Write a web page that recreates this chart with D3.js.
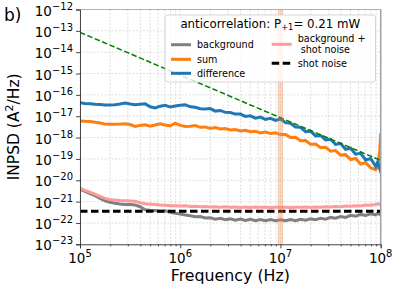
<!DOCTYPE html>
<html>
<head>
<style>
  body { margin: 0; background: #fff; }
  text { font-family: "DejaVu Sans", sans-serif; fill: #000; }
</style>
</head>
<body>
<div id="chart"></div>
<script src="https://d3js.org/d3.v7.min.js"></script>
<script>

// log10 of frequency (Hz) where the traces were read
var logFreq = [5.00,5.05,5.10,5.15,5.20,5.25,5.30,5.35,5.40,5.45,
               5.50,5.55,5.60,5.65,5.70,5.75,5.80,5.85,5.90,5.95,
               6.00,6.05,6.10,6.15,6.20,6.25,6.30,6.35,6.40,6.45,
               6.50,6.55,6.60,6.65,6.70,6.75,6.80,6.85,6.90,6.95,
               7.00,7.05,7.10,7.15,7.20,7.25,7.30,7.35,7.40,7.45,
               7.50,7.55,7.60,7.65,7.70,7.75,7.80,7.85,7.90,7.95,
               7.97,7.99,8.00];

// log10 of INPSD (A^2/Hz)
var background = [-20.42,-20.52,-20.62,-20.72,-20.85,-20.96,-21.03,-21.08,-21.11,-21.13,
                  -21.14,-21.16,-21.24,-21.38,-21.41,-21.42,-21.45,-21.43,-21.50,-21.55,
                  -21.58,-21.63,-21.66,-21.71,-21.70,-21.77,-21.76,-21.82,-21.78,-21.85,
                  -21.81,-21.87,-21.82,-21.88,-21.83,-21.89,-21.84,-21.90,-21.84,-21.89,
                  -21.85,-21.90,-21.84,-21.89,-21.83,-21.87,-21.81,-21.85,-21.78,-21.82,
                  -21.74,-21.78,-21.70,-21.74,-21.64,-21.68,-21.60,-21.65,-21.57,-21.62,
                  -21.54,-21.60,-21.55];

var sum = [-17.22,-17.24,-17.25,-17.28,-17.32,-17.37,-17.38,-17.38,-17.37,-17.35,
           -17.39,-17.48,-17.43,-17.40,-17.47,-17.41,-17.35,-17.41,-17.45,-17.33,
           -17.43,-17.48,-17.47,-17.44,-17.52,-17.50,-17.57,-17.53,-17.60,-17.58,
           -17.64,-17.62,-17.69,-17.66,-17.73,-17.70,-17.78,-17.74,-17.81,-17.78,
           -17.86,-17.86,-18.00,-17.99,-18.15,-18.14,-18.31,-18.30,-18.47,-18.45,
           -18.64,-18.61,-18.82,-18.80,-19.03,-18.98,-19.24,-19.18,-19.42,-19.50,
           -19.35,-18.60,-17.80];

var difference = [-16.37,-16.40,-16.42,-16.44,-16.45,-16.47,-16.47,-16.46,-16.43,-16.38,
                  -16.43,-16.46,-16.44,-16.42,-16.56,-16.61,-16.53,-16.49,-16.57,-16.52,
                  -16.49,-16.46,-16.56,-16.58,-16.65,-16.66,-16.64,-16.76,-16.73,-16.82,
                  -16.83,-16.90,-16.90,-17.01,-16.98,-17.09,-17.04,-17.15,-17.10,-17.20,
                  -17.13,-17.30,-17.33,-17.51,-17.52,-17.72,-17.70,-17.92,-17.90,-18.11,
                  -18.08,-18.32,-18.28,-18.55,-18.50,-18.78,-18.74,-19.05,-18.98,-19.35,
                  -19.15,-19.45,-19.25];

var bgShot = [-20.37,-20.47,-20.56,-20.65,-20.75,-20.85,-20.90,-20.93,-20.95,-20.96,
              -20.97,-20.98,-21.05,-21.10,-21.12,-21.14,-21.16,-21.17,-21.19,-21.19,
              -21.21,-21.20,-21.23,-21.22,-21.24,-21.23,-21.25,-21.24,-21.26,-21.24,
              -21.26,-21.25,-21.27,-21.25,-21.27,-21.25,-21.27,-21.26,-21.28,-21.26,
              -21.27,-21.26,-21.28,-21.26,-21.27,-21.25,-21.27,-21.25,-21.26,-21.24,
              -21.25,-21.23,-21.24,-21.21,-21.22,-21.19,-21.20,-21.16,-21.17,-21.13,
              -21.10,-21.14,-21.10];

var shotNoise = -21.45;
// green dashed 1/f^2 guide: [log f, log INPSD]
var guide = [[5, -13.07], [8, -19.07]];
// shaded band around 10 MHz (log f)
var band = [6.978, 7.022];

var yTicks = [-23,-22,-21,-20,-19,-18,-17,-16,-15,-14,-13,-12];
var xTicks = [5, 6, 7, 8];

var margin = {top: 9.5, right: 18.3, bottom: 44.7, left: 80},
    width = 399 - margin.left - margin.right,
    height = 289 - margin.top - margin.bottom;

var root = d3.select("#chart")
  .append("svg")
    .attr("width", 399)
    .attr("height", 289);

var svg = root.append("g")
    .attr("transform", "translate(" + margin.left + "," + margin.top + ")");

var x = d3.scaleLog().domain([1e5, 1e8]).range([0, width]);
var y = d3.scaleLog().domain([1e-23, 1e-12]).range([height, 0]);
var p10 = function(v) { return Math.pow(10, v); };

var minorX = [];
xTicks.slice(0, -1).forEach(function(e) {
  for (var k = 2; k < 10; k++) minorX.push(k * p10(e));
});

// grid
var grid = svg.append("g").attr("class", "grid");
grid.selectAll("line.vx")
  .data(minorX.concat(xTicks.map(p10)))
  .enter().append("line")
    .attr("x1", function(d) { return x(d); })
    .attr("x2", function(d) { return x(d); })
    .attr("y1", 0).attr("y2", height);
grid.selectAll("line.hy")
  .data(yTicks.map(p10))
  .enter().append("line")
    .attr("x1", 0).attr("x2", width)
    .attr("y1", function(d) { return y(d); })
    .attr("y2", function(d) { return y(d); });
grid.selectAll("line")
  .attr("stroke", "#d6d6d6")
  .attr("stroke-width", 0.8)
  .attr("stroke-dasharray", "2,1.5");

svg.append("clipPath").attr("id", "clip")
  .append("rect").attr("width", width).attr("height", height);

var plot = svg.append("g").attr("clip-path", "url(#clip)");

var line = d3.line()
  .x(function(d, i) { return x(p10(logFreq[i])); })
  .y(function(d) { return y(p10(d)); });

plot.append("path").datum(background)
  .attr("d", line).attr("fill", "none")
  .attr("stroke", "#808080").attr("stroke-width", 3);
plot.append("path").datum(sum)
  .attr("d", line).attr("fill", "none")
  .attr("stroke", "#ff7f0e").attr("stroke-width", 3);
plot.append("path").datum(difference)
  .attr("d", line).attr("fill", "none")
  .attr("stroke", "#1f77b4").attr("stroke-width", 3);
plot.append("path").datum(bgShot)
  .attr("d", line).attr("fill", "none")
  .attr("stroke", "#ff9a9a").attr("stroke-width", 3);

plot.append("line")
  .attr("x1", x(1e5)).attr("x2", x(1e8))
  .attr("y1", y(p10(shotNoise))).attr("y2", y(p10(shotNoise)))
  .attr("stroke", "#000").attr("stroke-width", 3)
  .attr("stroke-dasharray", "7.5,3.5");

plot.append("path").datum(guide)
  .attr("d", d3.line()
    .x(function(d) { return x(p10(d[0])); })
    .y(function(d) { return y(p10(d[1])); }))
  .attr("fill", "none")
  .attr("stroke", "#008000").attr("stroke-width", 1.5)
  .attr("stroke-dasharray", "5.5,2.5");

plot.append("rect")
  .attr("x", x(p10(band[0])))
  .attr("width", x(p10(band[1])) - x(p10(band[0])))
  .attr("y", 0).attr("height", height)
  .attr("fill", "#e8894f").attr("fill-opacity", 0.3)
  .attr("stroke", "#e8894f").attr("stroke-opacity", 0.45).attr("stroke-width", 0.8);

// spines
svg.append("line").attr("x1", 0).attr("x2", width).attr("y1", 0).attr("y2", 0)
  .attr("stroke", "#b0b0b0").attr("stroke-width", 1.2);
svg.append("line").attr("x1", width).attr("x2", width).attr("y1", 0).attr("y2", height)
  .attr("stroke", "#a0a0a0").attr("stroke-width", 1.5);

// axes
var yAxis = svg.append("g")
  .call(d3.axisLeft(y).tickValues(yTicks.map(p10)).tickSize(4).tickFormat(""));
var xAxis = svg.append("g")
  .attr("transform", "translate(0," + height + ")")
  .call(d3.axisBottom(x).tickValues(xTicks.map(p10)).tickSize(4).tickFormat(""));
svg.append("g")
  .attr("transform", "translate(0," + height + ")")
  .call(d3.axisBottom(x).tickValues(minorX).tickSize(2).tickFormat(""))
  .select(".domain").remove();
svg.selectAll(".domain, .tick line").attr("stroke", "#333").attr("stroke-width", 0.9);

yTicks.forEach(function(e) {
  var t = svg.append("text")
    .attr("x", -7)
    .attr("y", y(p10(e)) + 6)
    .attr("text-anchor", "end")
    .style("font-size", "13.5px");
  t.append("tspan").text("10");
  t.append("tspan").attr("dy", -6).style("font-size", "10px").text("\u2212" + (-e));
});

xTicks.forEach(function(e) {
  var t = svg.append("text")
    .attr("x", x(p10(e)))
    .attr("y", height + 18.5)
    .attr("text-anchor", "middle")
    .style("font-size", "13.5px");
  t.append("tspan").text("10");
  t.append("tspan").attr("dy", -6).style("font-size", "10px").text(e);
});

// axis titles
svg.append("text")
  .attr("x", width / 2)
  .attr("y", height + 37)
  .attr("text-anchor", "middle")
  .style("font-size", "15.8px")
  .text("Frequency (Hz)");

var yl = root.append("text")
  .attr("transform", "translate(19," + (margin.top + height / 2) + ")rotate(-90)")
  .attr("text-anchor", "middle")
  .style("font-size", "15.5px");
yl.append("tspan").text("INPSD (A");
yl.append("tspan").attr("dy", -6).style("font-size", "11px").text("2");
yl.append("tspan").attr("dy", 6).text("/Hz)");

root.append("text")
  .attr("x", 4).attr("y", 20.5)
  .style("font-size", "17px")
  .text("b)");

// legend
var lg = root.append("g").attr("transform", "translate(165,15)");
lg.append("rect")
  .attr("width", 210.5).attr("height", 67).attr("rx", 3)
  .attr("fill", "#fff").attr("fill-opacity", 0.8)
  .attr("stroke", "#cccccc").attr("stroke-width", 0.8);

var title = lg.append("text")
  .attr("x", 105.3).attr("y", 12.5)
  .attr("text-anchor", "middle")
  .style("font-size", "11.8px");
title.append("tspan").text("anticorrelation: P");
title.append("tspan").attr("dy", 2.5).style("font-size", "8.3px").text("+1");
title.append("tspan").attr("dy", -2.5).text("= 0.21 mW");

var items = [
  {label: ["background"], color: "#808080", lx: 6, ly: 29.7},
  {label: ["sum"], color: "#ff7f0e", lx: 6, ly: 44.3},
  {label: ["difference"], color: "#1f77b4", lx: 6, ly: 58.3},
  {label: ["background +", " shot noise"], color: "#ff9a9a", lx: 106.7, ly: 29.3},
  {label: ["shot noise"], color: "#000", lx: 106.7, ly: 48.3, dash: "7.5,3.5"}
];

items.forEach(function(d) {
  lg.append("line")
    .attr("x1", d.lx).attr("x2", d.lx + 20)
    .attr("y1", d.ly).attr("y2", d.ly)
    .attr("stroke", d.color).attr("stroke-width", 3)
    .attr("stroke-dasharray", d.dash || null);
  var n = d.label.length;
  d.label.forEach(function(s, i) {
    lg.append("text")
      .attr("x", d.lx + 26)
      .attr("y", d.ly + 3.5 + (i - (n - 1) / 2) * 11.3)
      .style("font-size", "9.6px")
      .style("white-space", "pre")
      .attr("xml:space", "preserve")
      .text(s);
  });
});

</script>
</body>
</html>
